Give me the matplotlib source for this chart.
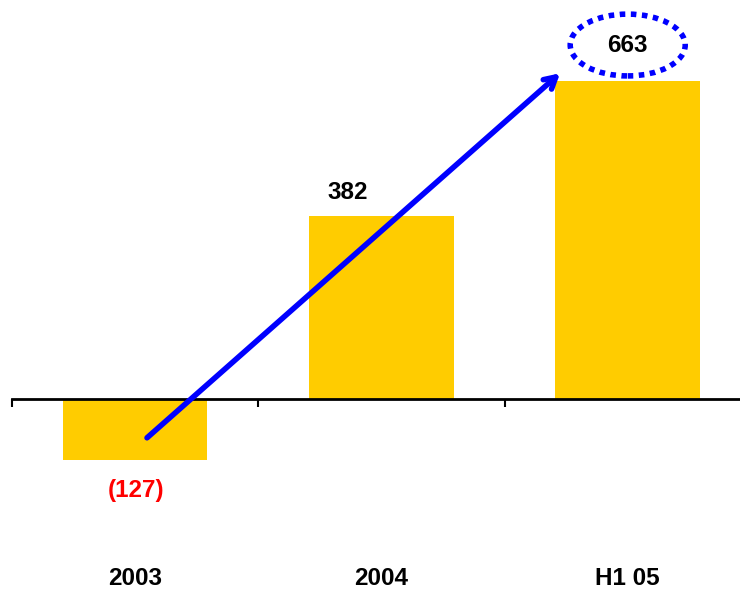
import matplotlib.pyplot as plt
from matplotlib.patches import Ellipse

plt.rcParams['font.family'] = ['Liberation Sans', 'DejaVu Sans']

categories = ['2003', '2004', 'H1 05']
values = [-127, 382, 663]
labels = ['(127)', '382', '663']
label_colors = ['#FF0000', '#000000', '#000000']
# where each value label sits (x, y in data units)
label_pos = [(0.003, -190), (0.862, 432), (2.0, 739)]

fig = plt.figure(figsize=(7.4, 5.93), dpi=100)
ax = fig.add_axes([0, 0, 1, 1])
ax.set_xlim(-0.549, 2.456)
ax.set_ylim(-405, 833)

x = list(range(len(categories)))
ax.bar(x, values, width=0.587, color='#FFCC00', zorder=1)

# baseline with the category-boundary ticks
for s in ['top', 'right', 'left']:
    ax.spines[s].set_visible(False)
ax.spines['bottom'].set_position(('data', 0))
ax.spines['bottom'].set_bounds(-0.5, 2.456)
ax.spines['bottom'].set_linewidth(2)
ax.set_xticks([-0.5, 0.5, 1.5])
ax.set_xticklabels([])
ax.tick_params(axis='x', direction='out', length=6, width=1.5)
ax.set_yticks([])

for (lx, ly), lab, c in zip(label_pos, labels, label_colors):
    ax.text(lx, ly, lab, ha='center', va='center', fontsize=17.5,
            fontweight='bold', color=c, zorder=4)

for xi, cat in zip(x, categories):
    ax.text(xi, -374, cat, ha='center', va='center', fontsize=17.5, fontweight='bold')

# growth arrow
ax.annotate('', xy=(1.725, 680), xytext=(0.048, -81),
            arrowprops=dict(arrowstyle='->, head_length=0.8, head_width=0.45',
                            color='#0000FF', lw=4, shrinkA=0, shrinkB=0), zorder=3)

ax.add_patch(Ellipse((2.0, 739), 0.467, 129, fill=False, edgecolor='#0000FF',
                     lw=4, linestyle=(0, (1, 1)), zorder=3))

fig.savefig('out.png', dpi=100)
